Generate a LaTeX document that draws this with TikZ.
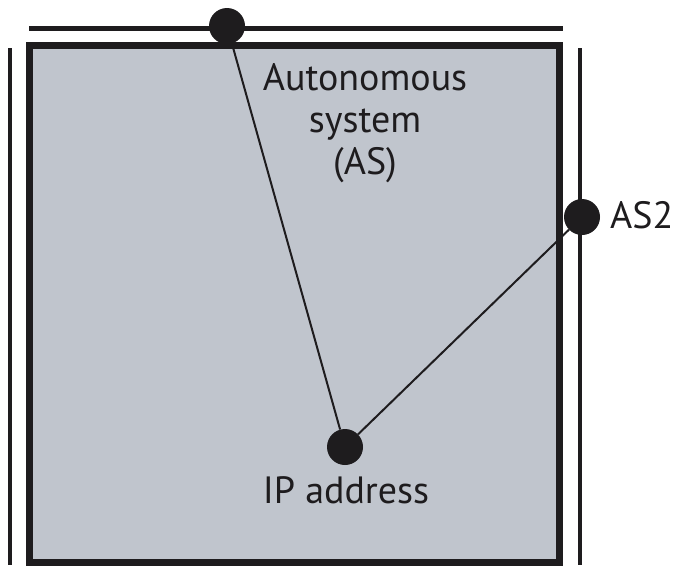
\documentclass[tikz,border=0pt]{standalone}
\usepackage{fontspec}
\setmainfont{PT Sans}
\definecolor{boxfill}{RGB}{192,197,205}
\definecolor{ink}{RGB}{30,28,30}
\begin{document}
\begin{tikzpicture}[x=1pt,y=-1pt,
  dot/.style={circle,fill=ink,inner sep=0pt,minimum size=36pt},
  lbl/.style={text=ink,font=\fontsize{38}{42}\selectfont,inner sep=0pt},
  link/.style={draw=ink,line width=2pt},
  rail/.style={draw=ink,line width=4.5pt},
  border/.style={draw=ink,line width=7pt,fill=boxfill},
]
\useasboundingbox (0,0) rectangle (676,573);
% autonomous system box
\path[border] (29,45) rectangle (559.5,562);
% rails
\draw[rail] (29,28.5) -- (563,28.5);
\draw[rail] (10,48) -- (10,565);
\draw[rail] (580,48) -- (580,565);
% points
\node[dot] (top) at (227,26) {};
\node[dot] (as2) at (582,217) {};
\node[dot] (ip) at (345,447) {};
% links
\draw[link] (top) -- (ip);
\draw[link] (ip) -- (as2);
% labels
\node[lbl,align=center,anchor=base] (astext) at (365,174) {Autonomous\\system\\(AS)};
\node[lbl,anchor=base west] (as2text) at (610,228) {AS2};
\node[lbl,anchor=base] (iptext) at (346,503) {IP address};
\end{tikzpicture}
\end{document}
